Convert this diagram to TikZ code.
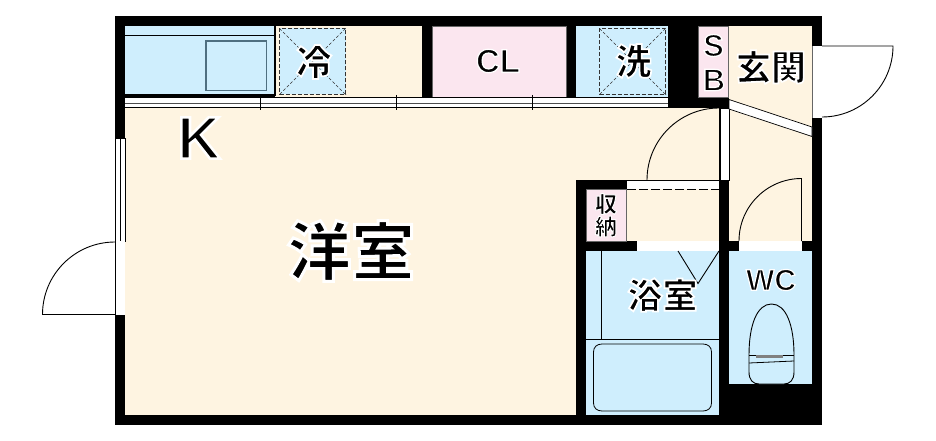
\documentclass[tikz,border=0pt]{standalone}
\usepackage{fontspec}
\setmainfont{Liberation Sans}
\newfontfamily\jpfont{Noto Sans CJK JP}
\definecolor{floorcream}{HTML}{FEF4E1}
\definecolor{wetblue}{HTML}{CFEEFD}
\definecolor{closetpink}{HTML}{FBE6EF}
\definecolor{sinkgray}{HTML}{4F6F80}
% bold glyphs with a white stroke on top: regular weight with a white rim
\newcommand{\labeltext}[3]{\fontsize{#1}{#1}\selectfont\bfseries\special{pdf:code q 2 Tr 1 1 1 RG #2 w}#3\special{pdf:code Q}}
\tikzset{
  wall/.style={fill=black, draw=none},
  cream/.style={fill=floorcream, draw=none},
  wet/.style={fill=wetblue, draw=none},
  closet/.style={fill=closetpink, draw=black!60, line width=0.6pt},
  opening/.style={fill=white, draw=black, line width=0.7pt},
  door/.style={draw=black, line width=0.9pt},
  applianceline/.style={draw=black!80, line width=0.7pt, dash pattern=on 4pt off 2pt},
  crossline/.style={draw=black!80, line width=0.5pt, dash pattern=on 3pt off 2pt},
}
\begin{document}
\begin{tikzpicture}[x=1pt, y=-1pt]
   \useasboundingbox (0,0) rectangle (936,441);
   \fill[white] (0,0) rectangle (936,441);
   % walls first, rooms are cut out of them
   \fill[wall] (115,16) rectangle (822,425);
   \fill[cream] (125,108) rectangle (576,415);
   \fill[cream] (576,108) rectangle (719,180);
   \fill[cream] (275,26) rectangle (422,97);
   \fill[cream] (729,26) rectangle (812,241);
   \fill[cream] (626,189) rectangle (719,241);
   % kitchen
   \fill[wet] (125,26) rectangle (275,95);
   \draw[line width=0.9pt] (125,35) -- (275,35);
   \draw[line width=1.2pt] (125,95) -- (275,95) -- (275,26);
   \draw[draw=sinkgray, line width=1.2pt] (206,41) rectangle (266.5,90.5);
   % fridge and washer places
   \fill[wet] (279.5,28.5) rectangle (345.5,94.5);
   \fill[wet] (576,26) rectangle (668,97);
   \foreach \boxx in {279.5,599.5} {
      \draw[applianceline] (\boxx,28.5) rectangle (\boxx+66,94.5);
      \draw[crossline] (\boxx,28.5) -- (\boxx+66,94.5);
      \draw[crossline] (\boxx+66,28.5) -- (\boxx,94.5);
   }
   % closets
   \fill[closet] (432,26) rectangle (566,97);
   \fill[closet] (698,26) rectangle (728.5,97);
   \fill[closet] (586,189) rectangle (626,241);
   % sliding doors along the top of the room
   \fill[white] (125,97) rectangle (668,107.5);
   \draw[line width=0.9pt] (125,97) -- (668,97);
   \draw[black!70, line width=0.7pt] (125,103) -- (668,103);
   \draw[line width=0.9pt] (125,107.5) -- (668,107.5);
   \foreach \tickx in {260,396,532} {
      \draw[line width=0.9pt] (\tickx,95) -- (\tickx,110);
   }
   % window and openings
   \draw[opening] (115,138) rectangle (125,241);
   \draw[line width=0.7pt] (120,138) -- (120,241);
   \fill[white] (115.5,241) rectangle (125,315);
   \draw[opening] (720,108) rectangle (729,180);
   \fill[white] (812,46) rectangle (822,118);
   \draw[black!60, line width=0.6pt] (812,46) -- (812,118);
   \fill[white] (636.5,241) rectangle (719,251);
   \fill[white] (739,241) rectangle (802,251);
   \fill[white] (627,180) rectangle (719,189);
   \draw[line width=0.9pt] (627,180) -- (719,180);
   \draw[line width=0.7pt, dash pattern=on 9pt off 3pt] (627,189) -- (719,189);
   \fill[white, draw=black, line width=0.7pt] (729,99.5) -- (812,127) -- (812,136.5) -- (729,109) -- cycle;
   % doors
   \draw[door] (647,180) arc[start angle=180, end angle=90, radius=72pt];
   \draw[door] (739,241) arc[start angle=180, end angle=90, radius=62.5pt] -- (801.5,241);
   \draw[door] (822,46) -- (893,46) arc[start angle=0, end angle=-90, radius=71pt];
   \draw[door] (115,242) arc[start angle=90, end angle=180, radius=72.5pt] -- (115,314.5);
   % bath
   \fill[wet] (586,251) rectangle (719,415);
   \draw[line width=0.7pt] (601,251) -- (601,339);
   \draw[line width=0.7pt] (586,339) -- (719,339);
   \draw[line width=0.8pt] (593.5,352) .. controls (593.5,347) and (597,344) .. (602,344) -- (703,344) .. controls (708,344) and (711.5,347) .. (711.5,352) -- (711.5,403) .. controls (711.5,408) and (708,411) .. (703,411) -- (602,411) .. controls (597,411) and (593.5,408) .. (593.5,403) -- cycle;
   \draw[line width=0.9pt] (678,251) -- (698,283.5) -- (719,251);
   % wc
   \fill[wet] (729,251) rectangle (812,384);
   \draw[line width=0.9pt, fill=wetblue] (749,355) .. controls (749,325) and (757,304) .. (771.5,304) .. controls (786,304) and (794,325) .. (794,355) -- (794,372) .. controls (794,380) and (790,384) .. (784,384) -- (759,384) .. controls (753,384) and (749,380) .. (749,372) -- cycle;
   \draw[line width=0.8pt] (749,355) -- (794,355);
   \draw[line width=0.8pt] (749,363) -- (794,361);
   \fill[black!50] (756,355) rectangle (783,358);
   % labels
   \node (kitchen) at (199,138) {\labeltext{60}{2.6}{K}};
   \node (room) at (351,251) {\jpfont\labeltext{64}{3.0}{洋室}};
   \node (fridge) at (314,62) {\jpfont\labeltext{36}{1.7}{冷}};
   \node (cl) at (498,61) {\labeltext{33}{1.3}{CL}};
   \node (washer) at (633.5,61) {\jpfont\labeltext{36}{1.7}{洗}};
   \node (s) at (713.5,45.5) {\labeltext{31}{1.3}{S}};
   \node (b) at (714,80) {\labeltext{31}{1.3}{B}};
   \node (entry) at (771,67) {\jpfont\labeltext{35}{1.7}{玄関}};
   \node (store) at (606,204) {\jpfont\labeltext{22}{1.0}{収}};
   \node (storeb) at (606,226.5) {\jpfont\labeltext{22}{1.0}{納}};
   \node (bath) at (662.5,295) {\jpfont\labeltext{35}{1.7}{浴室}};
   \node (wc) at (771,280) {\labeltext{30}{1.2}{WC}};
\end{tikzpicture}
\end{document}
